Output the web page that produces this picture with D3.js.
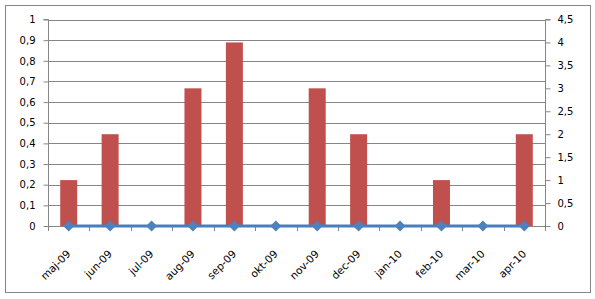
<!DOCTYPE html>
<html><head><meta charset="utf-8">
<script src="https://cdn.jsdelivr.net/npm/d3@7"></script>
<style>body{margin:0;background:#fff}svg{display:block}text{font-family:"DejaVu Sans",Verdana,sans-serif;font-size:10px;fill:#000}</style>
</head><body>
<script>
const categories = ["maj-09","jun-09","jul-09","aug-09","sep-09","okt-09","nov-09","dec-09","jan-10","feb-10","mar-10","apr-10"];
const barValues = [1,2,0,3,4,0,3,2,0,1,0,2];
const lineValues = [0,0,0,0,0,0,0,0,0,0,0,0];
const leftTicks = [0,0.1,0.2,0.3,0.4,0.5,0.6,0.7,0.8,0.9,1];
const rightTicks = [0,0.5,1,1.5,2,2.5,3,3.5,4,4.5];

const W=595,H=299;
const svg=d3.select("body").append("svg").attr("width",W).attr("height",H);
svg.append("rect").attr("x",5.5).attr("y",5.5).attr("width",585).attr("height",287).attr("fill","#fff").attr("stroke","#868686");

const x0=48,x1=545,yTop=19.5,yBot=226;
const x=d3.scaleBand().domain(categories).range([x0,x1]);
const yL=d3.scaleLinear().domain([0,1]).range([yBot,yTop]);
const yR=d3.scaleLinear().domain([0,4.5]).range([yBot,yTop]);
const fmt=d=>String(d).replace(".",",");

// gridlines
svg.append("g").selectAll("line").data(leftTicks.slice(1)).join("line")
 .attr("x1",x0).attr("x2",x1).attr("y1",d=>Math.round(yL(d))+0.5).attr("y2",d=>Math.round(yL(d))+0.5)
 .attr("stroke","#868686");

// left axis
const gl=svg.append("g").attr("transform",`translate(${x0+0.5},0)`)
 .call(d3.axisLeft(yL).tickValues(leftTicks).tickFormat(fmt).tickSize(5).tickPadding(8));
gl.select(".domain").attr("stroke","#868686").attr("d",`M-5,${yTop}H0V${yBot}`);
gl.selectAll(".tick line").attr("stroke","#868686");
gl.attr("font-size",null).attr("font-family",null);

// right axis
const gr=svg.append("g").attr("transform",`translate(${x1+0.5},0)`)
 .call(d3.axisRight(yR).tickValues(rightTicks).tickFormat(fmt).tickSize(5).tickPadding(7));
gr.select(".domain").attr("stroke","#868686").attr("d",`M5,${yTop}H0V${yBot}`);
gr.selectAll(".tick line").attr("stroke","#868686");
gr.attr("font-size",null).attr("font-family",null);

// bars
const bw=17;
svg.append("g").selectAll("rect").data(barValues).join("rect")
 .attr("x",(d,i)=>x(categories[i])+x.bandwidth()/2-bw/2).attr("width",bw)
 .attr("y",d=>yR(d)).attr("height",d=>yBot-yR(d)).attr("fill","#C0504D");

// bottom axis
const gb=svg.append("g").attr("transform",`translate(0,${yBot})`);
gb.append("line").attr("x1",x0).attr("x2",x1).attr("y1",0.5).attr("y2",0.5).attr("stroke","#868686");
gb.selectAll("line.t").data(d3.range(categories.length+1)).join("line").attr("class","t")
 .attr("x1",i=>Math.round(x0+i*x.step())+0.5).attr("x2",i=>Math.round(x0+i*x.step())+0.5)
 .attr("y1",0).attr("y2",5).attr("stroke","#868686");
gb.selectAll("text").data(categories).join("text")
 .attr("text-anchor","end").style("font-size","10.5px")
 .attr("transform",d=>`translate(${x(d)+x.bandwidth()/2},${26}) rotate(-45)`)
 .attr("dy","0.35em").text(d=>d);

// line series
const line=d3.line().x((d,i)=>x(categories[i])+x.bandwidth()/2).y(d=>yL(d));
svg.append("path").datum(lineValues).attr("d",line).attr("fill","none").attr("stroke","#4A7EBB").attr("stroke-width",3);
svg.append("g").selectAll("path").data(lineValues).join("path")
 .attr("transform",(d,i)=>`translate(${x(categories[i])+x.bandwidth()/2},${yL(d)})`)
 .attr("d","M0,-5.5L5.5,0L0,5.5L-5.5,0Z").attr("fill","#4F81BD");
</script>
</body></html>
